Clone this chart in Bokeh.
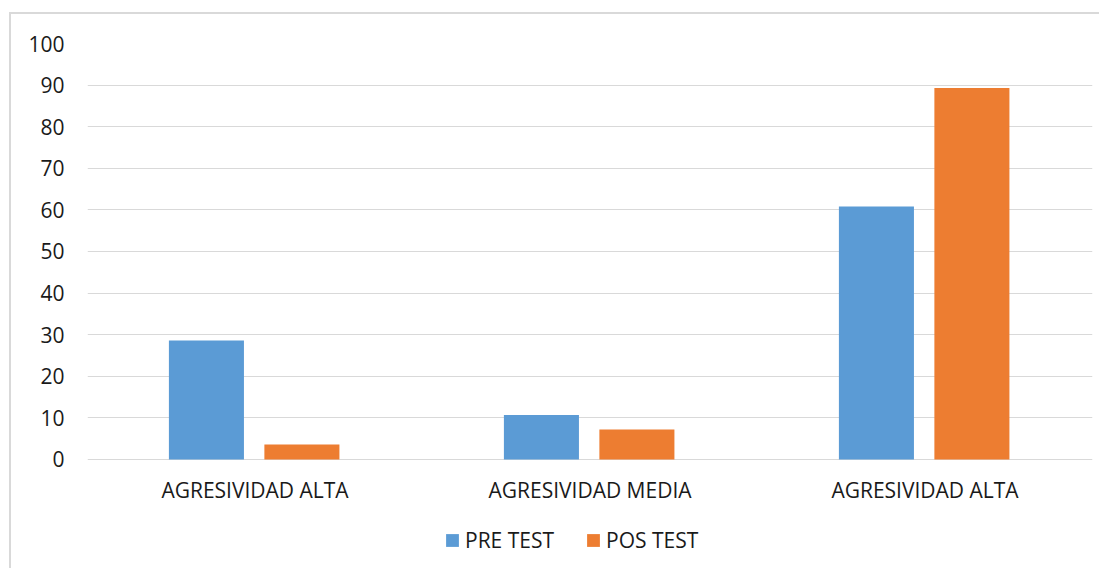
from bokeh.plotting import figure
from bokeh.models import ColumnDataSource, Range1d, FixedTicker, Legend, LegendItem
from bokeh.core.properties import value
from bokeh.transform import dodge
from bokeh.embed import file_html
from bokeh.resources import INLINE

categories = ["AGRESIVIDAD ALTA", "AGRESIVIDAD MEDIA", "AGRESIVIDAD ALTA"]
pre_test = [28.6, 10.7, 60.8]
pos_test = [3.6, 7.2, 89.3]
series_names = ["PRE TEST", "POS TEST"]
y_ticks = [0, 10, 20, 30, 40, 50, 60, 70, 80, 90, 100]

idx = list(range(len(categories)))
src = ColumnDataSource(dict(x=idx, pre=pre_test, pos=pos_test, cat=categories))

FONT = "Open Sans"
FS = "21px"
TXT = "#1a1a1a"

# frame spans 0..100 in 416 px; extra room below the zero line holds labels and legend
Y_BOTTOM = -26.7
LABEL_Y = -7.45

p = figure(width=1090, height=556, output_backend="svg", toolbar_location=None,
           x_range=Range1d(-0.5, len(categories) - 0.5), y_range=Range1d(Y_BOTTOM, 100),
           min_border_left=76, min_border_right=9, min_border_top=29, min_border_bottom=0)
p.margin = (12, 0, 0, 9)
p.styles = {"border-top": "2px solid #d9d9d9", "border-left": "2px solid #d9d9d9"}
p.outline_line_color = None
p.background_fill_color = "white"
p.border_fill_color = "white"

r_pre = p.vbar(x=dodge("x", -0.145, range=p.x_range), top="pre", bottom=0, width=0.224,
               source=src, fill_color="#5B9BD5", line_color=None)
r_pos = p.vbar(x=dodge("x", 0.14, range=p.x_range), top="pos", bottom=0, width=0.224,
               source=src, fill_color="#ED7D31", line_color=None)

p.text(x="x", y=LABEL_Y, text="cat", source=src, text_align="center", text_baseline="middle",
       text_font=value(FONT), text_font_size=FS, text_color=TXT)

p.xgrid.grid_line_color = None
p.ygrid.grid_line_color = "#d9d9d9"
p.ygrid.grid_line_width = 1
p.xaxis.visible = False

p.yaxis.ticker = FixedTicker(ticks=y_ticks)
ax = p.yaxis[0]
ax.axis_line_color = None
ax.major_tick_line_color = None
ax.minor_tick_line_color = None
ax.major_tick_out = 0
ax.major_tick_in = 0
ax.major_label_text_font = FONT
ax.major_label_text_font_size = FS
ax.major_label_text_color = TXT
ax.major_label_standoff = 23

legend = Legend(items=[LegendItem(label=series_names[0], renderers=[r_pre]),
                       LegendItem(label=series_names[1], renderers=[r_pos])],
                location=(357, 16), orientation="horizontal",
                border_line_color=None, background_fill_alpha=0,
                label_text_font=FONT, label_text_font_size=FS, label_text_color=TXT,
                glyph_width=16, glyph_height=16, label_standoff=5, spacing=31,
                padding=0, margin=0)
p.add_layout(legend, "center")

open("out.html", "w").write(file_html(p, INLINE))
